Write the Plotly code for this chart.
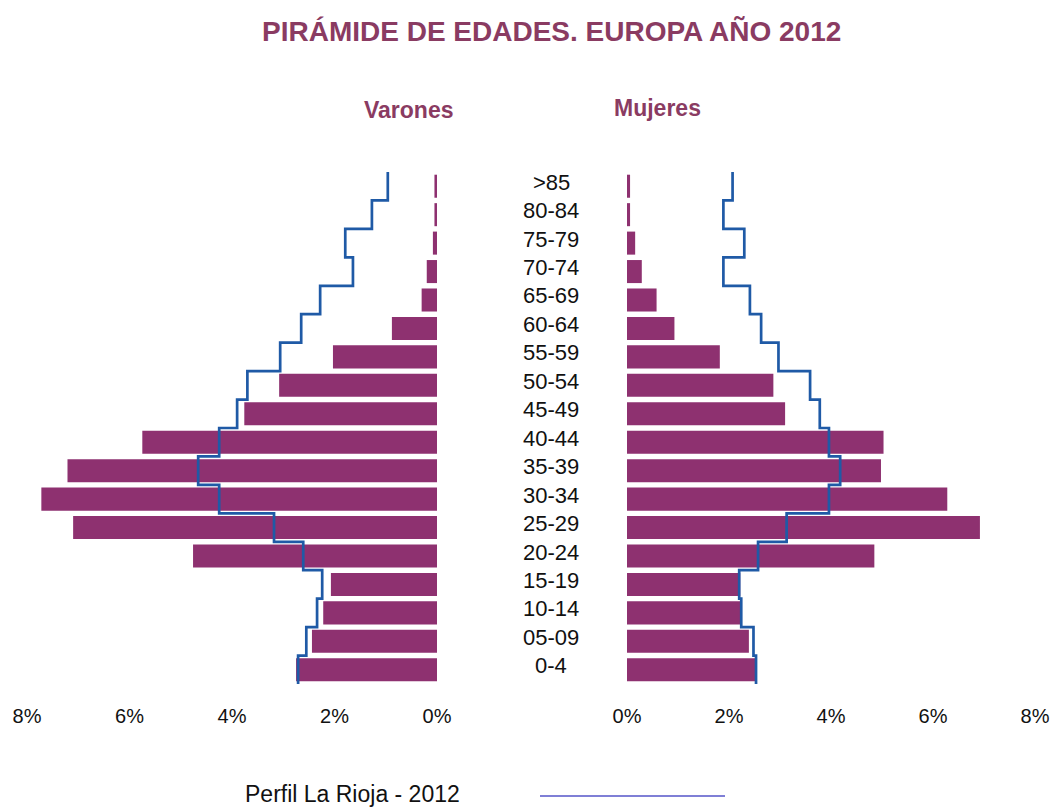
import plotly.graph_objects as go

W, H = 1061, 807

age_groups = ["0-4", "05-09", "10-14", "15-19", "20-24", "25-29", "30-34", "35-39",
              "40-44", "45-49", "50-54", "55-59", "60-64", "65-69", "70-74", "75-79",
              "80-84", ">85"]

# Europa 2012 (%), bars
varones_europa = [2.75, 2.44, 2.22, 2.07, 4.76, 7.10, 7.72, 7.21, 5.75, 3.76, 3.08, 2.03,
                  0.88, 0.30, 0.20, 0.08, 0.05, 0.05]
mujeres_europa = [2.54, 2.39, 2.24, 2.22, 4.85, 6.92, 6.28, 4.98, 5.03, 3.10, 2.87, 1.82,
                  0.93, 0.58, 0.29, 0.16, 0.06, 0.06]

# Perfil La Rioja 2012 (%), step line
varones_rioja = [2.71, 2.55, 2.34, 2.24, 2.61, 3.18, 4.25, 4.66, 4.25, 3.90, 3.70, 3.06,
                 2.65, 2.28, 1.64, 1.79, 1.27, 0.96]
mujeres_rioja = [2.53, 2.48, 2.24, 2.20, 2.57, 3.13, 3.96, 4.18, 3.96, 3.78, 3.59, 2.97,
                 2.63, 2.41, 1.89, 2.30, 1.89, 2.07]

x_ticks = [0, 2, 4, 6, 8]
x_ticktext = ["0%", "2%", "4%", "6%", "8%"]

BAR = "#8E3170"
LINE = "#1F5AA6"
TITLE = "#8A3B62"
FONT = "Liberation Sans, Arial, sans-serif"

pos = list(range(len(age_groups)))


def steps(values):
    xs, ys = [], []
    for i, v in zip(pos, values):
        xs += [v, v]
        ys += [i - 0.5, i + 0.5]
    return xs, ys


fig = go.Figure()
fig.add_trace(go.Bar(x=varones_europa, y=pos, orientation="h", marker_color=BAR,
                     marker_line_width=0, xaxis="x", yaxis="y", showlegend=False))
fig.add_trace(go.Bar(x=mujeres_europa, y=pos, orientation="h", marker_color=BAR,
                     marker_line_width=0, xaxis="x2", yaxis="y2", showlegend=False))
sx, sy = steps(varones_rioja)
fig.add_trace(go.Scatter(x=sx, y=sy, mode="lines", line=dict(color=LINE, width=2.7),
                         xaxis="x", yaxis="y", showlegend=False))
sx, sy = steps(mujeres_rioja)
fig.add_trace(go.Scatter(x=sx, y=sy, mode="lines", line=dict(color=LINE, width=2.7),
                         xaxis="x2", yaxis="y2", showlegend=False))

ydom = [(H - 684) / H, (H - 172) / H]
yrange = [-0.5, len(age_groups) - 0.5]
axis_common = dict(showgrid=False, zeroline=False, showline=False, ticks="",
                   tickvals=x_ticks, ticktext=x_ticktext, ticklabelstandoff=18,
                   tickfont=dict(family=FONT, size=20, color="#111111"), fixedrange=True)

fig.update_layout(
    width=W, height=H,
    margin=dict(l=0, r=0, t=0, b=0, autoexpand=False),
    paper_bgcolor="white", plot_bgcolor="white",
    bargap=0.19,
    xaxis=dict(domain=[27 / W, 437 / W], range=[8, 0], anchor="y", **axis_common),
    xaxis2=dict(domain=[627 / W, 1035 / W], range=[0, 8], anchor="y2", **axis_common),
    yaxis=dict(domain=ydom, range=yrange, visible=False, anchor="x"),
    yaxis2=dict(domain=ydom, range=yrange, visible=False, anchor="x2"),
    font=dict(family=FONT),
)

anns = []
for i, lab in zip(pos, age_groups):
    anns.append(dict(x=551 / W, xref="paper", y=i, yref="y", text=lab, showarrow=False,
                     xanchor="center", yanchor="middle", yshift=4,
                     font=dict(family=FONT, size=22, color="#111111")))
anns.append(dict(x=551 / W, y=(H - 32) / H, xref="paper", yref="paper",
                 text="<b>PIRÁMIDE DE EDADES. EUROPA AÑO 2012</b>", showarrow=False,
                 xanchor="center", yanchor="middle",
                 font=dict(family=FONT, size=28, color=TITLE)))
anns.append(dict(x=409 / W, y=(H - 110) / H, xref="paper", yref="paper",
                 text="<b>Varones</b>", showarrow=False, xanchor="center", yanchor="middle",
                 font=dict(family=FONT, size=23, color=TITLE)))
anns.append(dict(x=657 / W, y=(H - 108) / H, xref="paper", yref="paper",
                 text="<b>Mujeres</b>", showarrow=False, xanchor="center", yanchor="middle",
                 font=dict(family=FONT, size=23, color=TITLE)))
anns.append(dict(x=243 / W, y=(H - 794) / H, xref="paper", yref="paper",
                 text="Perfil La Rioja - 2012", showarrow=False, xanchor="left",
                 yanchor="middle", font=dict(family=FONT, size=23, color="#111111")))
fig.update_layout(annotations=anns)
fig.add_shape(type="line", xref="paper", yref="paper", x0=540 / W, x1=725 / W,
              y0=(H - 796) / H, y1=(H - 796) / H, line=dict(color="#7F7FD6", width=2))

fig.write_html("out.html", config={"displayModeBar": False},
               post_script="document.body.style.margin='0';document.body.style.overflow='hidden';")
